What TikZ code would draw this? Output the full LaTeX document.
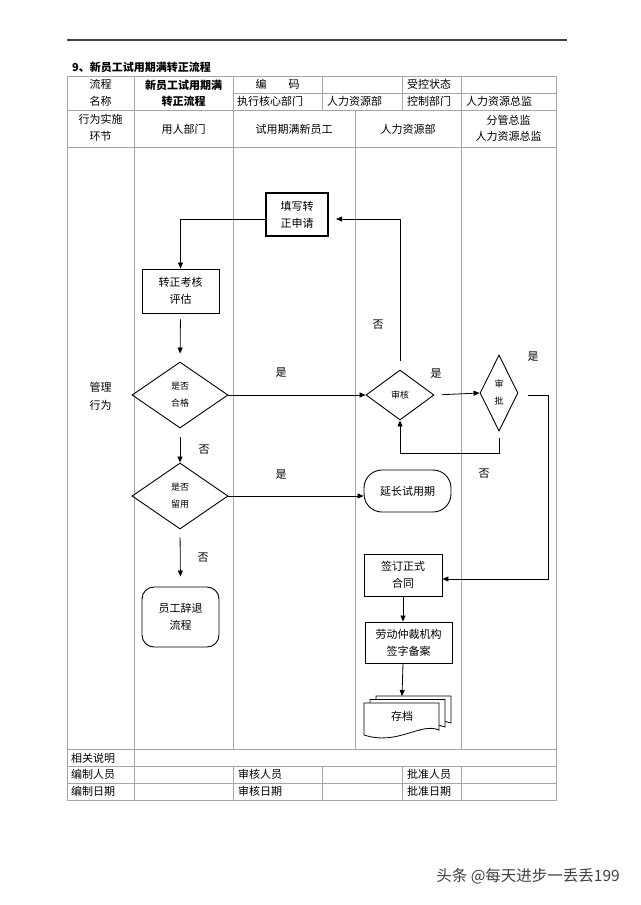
\documentclass[tikz,border=0pt]{standalone}
\usepackage{fontspec}
\setmainfont{Noto Sans CJK SC}
\usetikzlibrary{shapes.geometric,shapes.misc,arrows.meta}
\begin{document}
\begin{tikzpicture}[x={(1pt,0)},y={(0,-1pt)},
  font=\fontsize{11}{17}\selectfont,
  grid/.style={draw=gray!70, line width=0.8pt},
  tx/.style={inner sep=0pt, align=center},
  txl/.style={inner sep=0pt, anchor=west},
  box/.style={draw, line width=0.9pt, align=center, inner sep=0pt},
  dia/.style={draw, diamond, line width=0.9pt, inner sep=0pt, align=center, font=\fontsize{9}{17}\selectfont},
  arr/.style={-{Triangle[length=6pt,width=5pt]}, line width=0.8pt},
  lab/.style={inner sep=0pt},
  doc/.style={draw, fill=white, line width=0.8pt}
]
\useasboundingbox[fill=white] (0,0) rectangle (640,905);

% top rule and title
\draw[line width=1.1pt, black!75] (67,40) -- (567,40);
\node[txl, font=\fontsize{11}{17}\selectfont\bfseries] (title) at (72,67) {9、新员工试用期满转正流程};

% table grid
\draw[grid] (67,76) rectangle (556,800);
\draw[grid] (233,93) -- (556,93);
\draw[grid] (67,110) -- (556,110);
\draw[grid] (67,147) -- (556,147);
\draw[grid] (67,749) -- (556,749);
\draw[grid] (67,766) -- (556,766);
\draw[grid] (67,783) -- (556,783);
\draw[grid] (134,76) -- (134,800);
\draw[grid] (233,76) -- (233,749);
\draw[grid] (233,766) -- (233,800);
\draw[grid] (322,76) -- (322,110);
\draw[grid] (322,766) -- (322,800);
\draw[grid] (402,76) -- (402,110);
\draw[grid] (402,766) -- (402,800);
\draw[grid] (461,76) -- (461,749);
\draw[grid] (461,766) -- (461,800);
\draw[grid] (355,110) -- (355,749);

% header texts
\node[tx] (h1) at (100.5,84) {流程};
\node[tx] (h2) at (100.5,101) {名称};
\node[tx, font=\fontsize{11}{17}\selectfont\bfseries] (h3) at (183.5,85) {新员工试用期满};
\node[tx, font=\fontsize{11}{17}\selectfont\bfseries] (h4) at (183.5,101.5) {转正流程};
\node[tx] (h5) at (277.5,84) {编\hspace{2em}码};
\node[txl] (h6) at (407,84) {受控状态};
\node[txl] (h7) at (237,101) {执行核心部门};
\node[txl] (h8) at (327,101) {人力资源部};
\node[txl] (h9) at (407,101) {控制部门};
\node[txl] (h10) at (466,101) {人力资源总监};

\node[tx] (l1) at (100.5,119.5) {行为实施};
\node[tx] (l1b) at (100.5,136.5) {环节};
\node[tx] (l2) at (183.5,129) {用人部门};
\node[tx] (l3) at (294,129) {试用期满新员工};
\node[tx] (l4) at (408,129) {人力资源部};
\node[tx] (l5) at (508.5,120) {分管总监};
\node[tx] (l5b) at (508.5,136.5) {人力资源总监};

\node[tx] (m1) at (100.5,387) {管理};
\node[tx] (m2) at (100.5,405) {行为};

% bottom table texts
\node[txl] (b1) at (71,758) {相关说明};
\node[txl] (b2) at (71,774.5) {编制人员};
\node[txl] (b3) at (71,791.5) {编制日期};
\node[txl] (b4) at (238,774.5) {审核人员};
\node[txl] (b5) at (238,791.5) {审核日期};
\node[txl] (b6) at (407,774.5) {批准人员};
\node[txl] (b7) at (407,791.5) {批准日期};

% flow nodes
\node[box, line width=2pt, minimum width=62, minimum height=43] (fill) at (297,214.5) {填写转\\正申请};
\node[box, minimum width=77, minimum height=44] (eval) at (180.5,291) {转正考核\\评估};
\node[dia, minimum width=96, minimum height=66] (pass) at (180,395) {是否\\合格};
\node[dia, minimum width=68, minimum height=50] (rev) at (400,395) {审核};
\node[dia, minimum width=38, minimum height=76] (appr) at (499,393) {审\\批};
\node[dia, minimum width=96, minimum height=66] (keep) at (180,496) {是否\\留用};
\node[box, rounded corners=18, minimum width=87, minimum height=42] (ext) at (407.5,491) {延长试用期};
\node[box, rounded corners=12, minimum width=77, minimum height=60] (quit) at (180.5,617) {员工辞退\\流程};
\node[box, minimum width=78, minimum height=42] (sign) at (403,575) {签订正式\\合同};
\node[box, minimum width=87, minimum height=41] (arb) at (408.5,642.5) {劳动仲裁机构\\签字备案};

% archive (multi-document)
\draw[doc] (376,696) -- (451,696) -- (451,723) .. controls (440,720) .. (430,726) -- (376,726) -- cycle;
\draw[doc] (370,699.5) -- (445,699.5) -- (445,727) .. controls (432,723) .. (420,730) -- (370,730) -- cycle;
\draw[doc] (364,703) -- (439,703) -- (439,730) .. controls (420,722) and (398,746) .. (364,735) -- cycle;
\node[tx] (arch) at (402,716) {存档};
\coordinate (archtop) at (402,696);
\coordinate (c1) at (548,395);

% connectors
\draw[arr] ([yshift=-4.5pt]fill.west) -| (eval.north);
\draw[arr, shorten <=6pt, shorten >=8pt] (eval.south) -- (pass.north);
\draw[arr] (pass.east) -- (rev.west);
\draw[arr, shorten <=9pt, shorten >=7pt] (rev.north) |- ([yshift=-4.5pt]fill.east);
\draw[arr, shorten <=8pt] (rev.east) -- (appr.west);
\draw[arr, shorten <=7pt] (appr.south) -- ++(0,22) -| (rev.south);
\draw[arr] ([xshift=10pt,yshift=-2pt]appr.east) -- ([yshift=-2pt]appr.east -| c1) |- ([yshift=-4pt]sign.east);
\draw[arr, shorten <=9pt] (pass.south) -- (keep.north);
\draw[arr] (keep.east) -- (keep.east -| ext.west);
\draw[arr, shorten <=8pt, shorten >=10pt] (keep.south) -- (quit.north);
\draw[arr] (sign.south) -- (sign.south |- arb.north);
\draw[arr] (sign.south |- arb.south) -- (archtop);

% labels
\node[lab] (y1) at (281,373) {是};
\node[lab] (n1) at (378,325) {否};
\node[lab] (y2) at (436,374) {是};
\node[lab] (n2) at (484,474) {否};
\node[lab] (y3) at (533,357) {是};
\node[lab] (n3) at (204,450) {否};
\node[lab] (y4) at (281,475) {是};
\node[lab] (n4) at (203,558) {否};

% watermark
\node[inner sep=0pt, text=black!75, font=\fontsize{15.5}{18}\selectfont] (wm) at (528,876) {头条 @每天进步一丢丢199};
\end{tikzpicture}
\end{document}
